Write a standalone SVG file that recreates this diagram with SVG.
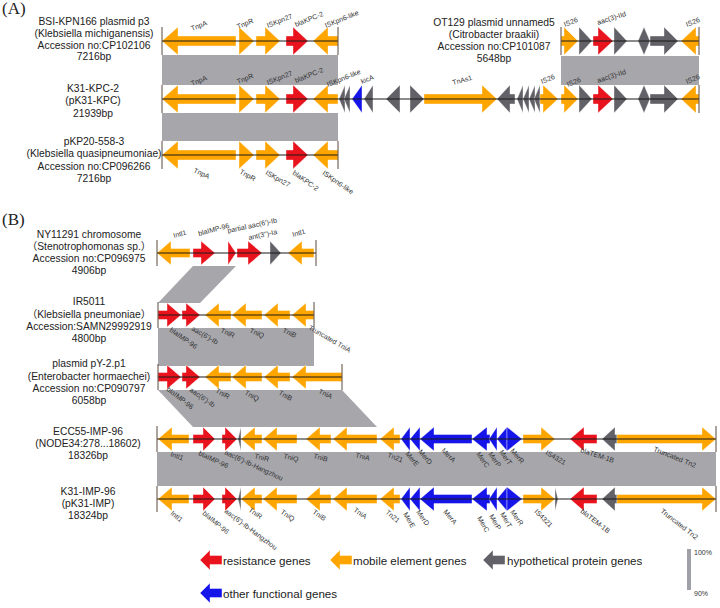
<svg xmlns="http://www.w3.org/2000/svg" width="720" height="608" viewBox="0 0 720 608">
<style>
.t{font-family:"Liberation Sans",Arial,"Noto Sans CJK SC",sans-serif;font-size:10.3px;fill:#222;text-anchor:middle}
.g{font-family:"Liberation Sans",Arial,sans-serif;font-size:7px;fill:#333}
.p{font-family:"Liberation Serif","Times New Roman",serif;font-size:17px;fill:#222}
.lg{font-family:"Liberation Sans",Arial,sans-serif;font-size:11.6px;fill:#222}
.sc{font-family:"Liberation Sans",Arial,sans-serif;font-size:7px;fill:#333}
.band{fill:#a6a6ab}
.trk{stroke:#1a1a1a;stroke-width:1.2}
.tick{stroke:#5b4b3b;stroke-width:1}
.o{fill:#ffa500}.r{fill:#e8131c}.k{fill:#616167}.b{fill:#1515ea}
polygon{stroke:#fff;stroke-width:0.4}
</style>
<defs>
<g id="kpc">
<polygon class="o" points="236,-5 178,-5 178,-14 162,0 178,14 178,5 236,5"/>
<polygon class="o" points="239,-14 254,0 239,14"/>
<polygon class="o" points="256,-5 265,-5 265,-14 280,0 265,14 265,5 256,5"/>
<polygon class="r" points="286,-5 293,-5 293,-14 308,0 293,14 293,5 286,5"/>
<polygon class="o" points="338,-5 328,-5 328,-14 313,0 328,14 328,5 338,5"/>
</g>
<g id="ot">
<polygon class="o" points="561,-5 564,-5 564,-14 578,0 564,14 564,5 561,5"/>
<polygon class="k" points="579,-14 592,0 579,14"/>
<polygon class="r" points="593,-5 598,-5 598,-14 613,0 598,14 598,5 593,5"/>
<polygon class="k" points="614,-14 627,0 614,14"/>
<polygon class="k" points="638,0 644,-14 650,0 644,14"/>
<polygon class="k" points="650,-5 664,-5 664,-14 678,0 664,14 664,5 650,5"/>
<polygon class="o" points="699,-5 696,-5 696,-14 681,0 696,14 696,5 699,5"/>
</g>
<g id="ir">
<polygon class="r" points="158,-4.5 167,-4.5 167,-12 181,0 167,12 167,4.5 158,4.5"/>
<polygon class="r" points="182,-4.5 186,-4.5 186,-12 200,0 186,12 186,4.5 182,4.5"/>
<polygon class="o" points="231,-4.5 219,-4.5 219,-12 205,0 219,12 219,4.5 231,4.5"/>
<polygon class="o" points="262,-4.5 246,-4.5 246,-12 232,0 246,12 246,4.5 262,4.5"/>
<polygon class="o" points="290,-4.5 278,-4.5 278,-12 264,0 278,12 278,4.5 290,4.5"/>
</g>
<g id="ecc">
<polygon class="o" points="189,-4.5 172,-4.5 172,-12 158,0 172,12 172,4.5 189,4.5"/>
<polygon class="r" points="193,-4.5 203,-4.5 203,-12 215,0 203,12 203,4.5 193,4.5"/>
<polygon class="r" points="222,-4.5 225,-4.5 225,-12 237,0 225,12 225,4.5 222,4.5"/>
<polygon class="k" points="241,-12 238,0 241,12"/>
<polygon class="o" points="262,-4.5 255,-4.5 255,-12 241,0 255,12 255,4.5 262,4.5"/>
<polygon class="o" points="297,-4.5 277,-4.5 277,-12 263,0 277,12 277,4.5 297,4.5"/>
<polygon class="o" points="331,-4.5 320,-4.5 320,-12 306,0 320,12 320,4.5 331,4.5"/>
<polygon class="o" points="377,-4.5 347,-4.5 347,-12 333,0 347,12 347,4.5 377,4.5"/>
<polygon class="o" points="400,-4.5 394,-4.5 394,-12 380,0 394,12 394,4.5 400,4.5"/>
<polygon class="b" points="410,-12 401,0 410,12"/>
<polygon class="b" points="420,-12 410,0 420,12"/>
<polygon class="b" points="472,-4.5 434,-4.5 434,-12 420,0 434,12 434,4.5 472,4.5"/>
<polygon class="b" points="490,-4.5 487,-4.5 487,-12 472,0 487,12 487,4.5 490,4.5"/>
<polygon class="b" points="497,-12 489,0 497,12"/>
<polygon class="b" points="507,-12 497,0 507,12"/>
<polygon class="b" points="507,-12 522,0 507,12"/>
<polygon class="o" points="523,-4.5 541,-4.5 541,-12 555,0 541,12 541,4.5 523,4.5"/>
<polygon class="r" points="597,-4.5 584,-4.5 584,-12 570,0 584,12 584,4.5 597,4.5"/>
<polygon class="k" points="617,-4.5 615,-4.5 615,-12 602,0 615,12 615,4.5 617,4.5"/>
<polygon class="o" points="617,-4.5 702,-4.5 702,-12 716,0 702,12 702,4.5 617,4.5"/>
</g>
</defs>

<text class="p" x="2" y="14">(A)</text>
<text class="p" x="2" y="225">(B)</text>

<g id="bands">
<rect class="band" x="162" y="55" width="176" height="30"/>
<rect class="band" x="561" y="56" width="138" height="29"/>
<rect class="band" x="162" y="113" width="176" height="28"/>
<polygon class="band" points="193,266 236,266 200,303 158,303" style="stroke:none"/>
<rect class="band" x="158" y="328" width="156" height="38"/>
<polygon class="band" points="158,390 342,390 377,427 193,427" style="stroke:none"/>
<rect class="band" x="157" y="452" width="559" height="34"/>
</g>

<g id="row-BSI">
<g transform="translate(0,41)">
<use href="#kpc"/>
<line class="trk" x1="162" y1="0" x2="338" y2="0"/>
<line class="tick" x1="162" y1="-14" x2="162" y2="14"/>
<line class="tick" x1="338" y1="-14" x2="338" y2="14"/>
</g>
<text class="t" x="94" y="25">BSI-KPN166 plasmid p3</text>
<text class="t" x="94" y="37">(Klebsiella michiganensis)</text>
<text class="t" x="94" y="48.5">Accession no:CP102106</text>
<text class="t" x="94" y="60">7216bp</text>
<text class="g" transform="translate(192,31) rotate(-22)">TnpA</text>
<text class="g" transform="translate(238,29) rotate(-22)">TnpR</text>
<text class="g" transform="translate(268,28) rotate(-22)">ISKpn27</text>
<text class="g" transform="translate(296,27) rotate(-22)">blaKPC-2</text>
<text class="g" transform="translate(326,28) rotate(-22)">ISKpn6-like</text>
</g>

<g id="row-OT129">
<g transform="translate(0,41)">
<use href="#ot"/>
<line class="trk" x1="561" y1="0" x2="699" y2="0"/>
<line class="tick" x1="561" y1="-14" x2="561" y2="14"/>
<line class="tick" x1="699" y1="-14" x2="699" y2="14"/>
</g>
<text class="t" x="494" y="26">OT129 plasmid unnamed5</text>
<text class="t" x="494" y="38">(Citrobacter braakii)</text>
<text class="t" x="494" y="50">Accession no:CP101087</text>
<text class="t" x="494" y="62">5648bp</text>
<text class="g" transform="translate(565,27) rotate(-22)">IS26</text>
<text class="g" transform="translate(598,25) rotate(-18)">aac(3)-IId</text>
<text class="g" transform="translate(687,27) rotate(-22)">IS26</text>
</g>

<g id="row-K31-KPC">
<g transform="translate(0,99)">
<use href="#kpc"/>
<polygon class="k" points="345,-14 339,0 345,14"/>
<polygon class="k" points="350,-14 344,0 350,14"/>
<polygon class="b" points="362,-14 352,0 362,14"/>
<polygon class="k" points="373,-14 364,0 373,14"/>
<polygon class="k" points="400,-14 386,0 400,14"/>
<polygon class="k" points="410,-14 424,0 410,14"/>
<polygon class="o" points="424,-5 482,-5 482,-14 497,0 482,14 482,5 424,5"/>
<polygon class="k" points="515,-5 510,-5 510,-14 497,0 510,14 510,5 515,5"/>
<polygon class="k" points="523,-14 517,0 523,14"/>
<polygon class="k" points="529,-14 523,0 529,14"/>
<polygon class="k" points="535,-14 529,0 535,14"/>
<polygon class="k" points="540,-14 534,0 540,14"/>
<polygon class="o" points="540,-5 543,-5 543,-14 558,0 543,14 543,5 540,5"/>
<use href="#ot"/>
<line class="trk" x1="162" y1="0" x2="699" y2="0"/>
<line class="tick" x1="162" y1="-14" x2="162" y2="14"/>
<line class="tick" x1="699" y1="-14" x2="699" y2="14"/>
</g>
<text class="t" x="93" y="92">K31-KPC-2</text>
<text class="t" x="93" y="104">(pK31-KPC)</text>
<text class="t" x="93" y="117">21939bp</text>
<text class="g" transform="translate(192,86) rotate(-22)">TnpA</text>
<text class="g" transform="translate(238,84) rotate(-22)">TnpR</text>
<text class="g" transform="translate(268,85) rotate(-22)">ISKpn27</text>
<text class="g" transform="translate(296,83) rotate(-22)">blaKPC-2</text>
<text class="g" transform="translate(328,87) rotate(-22)">ISKpn6-like</text>
<text class="g" transform="translate(362,84) rotate(-22)">kicA</text>
<text class="g" transform="translate(453,85) rotate(-15)">TnAs1</text>
<text class="g" transform="translate(542,84) rotate(-22)">IS26</text>
<text class="g" transform="translate(568,87) rotate(-22)">IS26</text>
<text class="g" transform="translate(598,83) rotate(-18)">aac(3)-IId</text>
<text class="g" transform="translate(687,84) rotate(-22)">IS26</text>
</g>

<g id="row-pKP20">
<g transform="translate(0,155)">
<use href="#kpc"/>
<line class="trk" x1="162" y1="0" x2="338" y2="0"/>
<line class="tick" x1="162" y1="-14" x2="162" y2="14"/>
<line class="tick" x1="338" y1="-14" x2="338" y2="14"/>
</g>
<text class="t" x="94" y="145">pKP20-558-3</text>
<text class="t" x="94" y="157">(Klebsiella quasipneumoniae)</text>
<text class="t" x="94" y="170">Accession no:CP096266</text>
<text class="t" x="94" y="182">7216bp</text>
<text class="g" transform="translate(193,172) rotate(25)">TnpA</text>
<text class="g" transform="translate(239,173) rotate(30)">TnpR</text>
<text class="g" transform="translate(265,174) rotate(30)">ISKpn27</text>
<text class="g" transform="translate(292,174) rotate(35)">blaKPC-2</text>
<text class="g" transform="translate(322,174) rotate(35)">ISKpn6-like</text>
</g>

<g id="row-NY11291">
<g transform="translate(0,253)">
<polygon class="o" points="190,-4.5 171,-4.5 171,-12 157,0 171,12 171,4.5 190,4.5"/>
<polygon class="r" points="193,-4.5 201,-4.5 201,-12 215,0 201,12 201,4.5 193,4.5"/>
<polygon class="r" points="228,-12 236,0 228,12"/>
<polygon class="r" points="237,-4.5 248,-4.5 248,-12 262,0 248,12 248,4.5 237,4.5"/>
<polygon class="k" points="270,-12 281,0 270,12"/>
<polygon class="o" points="314,-4.5 302,-4.5 302,-12 288,0 302,12 302,4.5 314,4.5"/>
<line class="trk" x1="157" y1="0" x2="316" y2="0"/>
<line class="tick" x1="157" y1="-13" x2="157" y2="13"/>
<line class="tick" x1="316" y1="-13" x2="316" y2="13"/>
</g>
<text class="t" x="89" y="238">NY11291 chromosome</text>
<text class="t" x="89" y="250">（Stenotrophomonas sp.）</text>
<text class="t" x="89" y="262">Accession no:CP096975</text>
<text class="t" x="89" y="274">4906bp</text>
<text class="g" transform="translate(174,238) rotate(-15)">Intl1</text>
<text class="g" transform="translate(199,236) rotate(-15)">blaIMP-96</text>
<text class="g" transform="translate(228,233) rotate(-12)">partial aac(6')-Ib</text>
<text class="g" transform="translate(249,240) rotate(-12)">ant(3'')-Ia</text>
<text class="g" transform="translate(293,237) rotate(-15)">Intl1</text>
</g>

<g id="row-IR5011">
<g transform="translate(0,315)">
<use href="#ir"/>
<polygon class="o" points="314,-4.5 306,-4.5 306,-12 292,0 306,12 306,4.5 314,4.5"/>
<line class="trk" x1="158" y1="0" x2="314" y2="0"/>
<line class="tick" x1="158" y1="-13" x2="158" y2="13"/>
<line class="tick" x1="314" y1="-13" x2="314" y2="13"/>
</g>
<text class="t" x="89" y="305">IR5011</text>
<text class="t" x="89" y="318">（Klebsiella pneumoniae）</text>
<text class="t" x="89" y="330">Accession:SAMN29992919</text>
<text class="t" x="89" y="342">4800bp</text>
<text class="g" transform="translate(169,331) rotate(35)">blaIMP-96</text>
<text class="g" transform="translate(191,330) rotate(30)">aac(6')-Ib</text>
<text class="g" transform="translate(220,332) rotate(25)">TniR</text>
<text class="g" transform="translate(249,332) rotate(25)">TniQ</text>
<text class="g" transform="translate(282,332) rotate(25)">TniB</text>
<text class="g" transform="translate(308,329) rotate(30)">Truncated TniA</text>
</g>

<g id="row-pY-2">
<g transform="translate(0,377)">
<use href="#ir"/>
<polygon class="o" points="342,-4.5 306,-4.5 306,-12 292,0 306,12 306,4.5 342,4.5"/>
<line class="trk" x1="158" y1="0" x2="342" y2="0"/>
<line class="tick" x1="158" y1="-13" x2="158" y2="13"/>
<line class="tick" x1="342" y1="-13" x2="342" y2="13"/>
</g>
<text class="t" x="89" y="367">plasmid pY-2.p1</text>
<text class="t" x="89" y="380">(Enterobacter hormaechei)</text>
<text class="t" x="89" y="392">Accession no:CP090797</text>
<text class="t" x="89" y="404">6058bp</text>
<text class="g" transform="translate(166,390) rotate(38)">blaIMP-96</text>
<text class="g" transform="translate(189,391) rotate(35)">aac(6')-Ib</text>
<text class="g" transform="translate(215,392) rotate(30)">TniR</text>
<text class="g" transform="translate(244,394) rotate(30)">TniQ</text>
<text class="g" transform="translate(278,394) rotate(30)">TniB</text>
<text class="g" transform="translate(318,393) rotate(25)">TniA</text>
</g>

<g id="row-ECC55">
<g transform="translate(0,439)">
<use href="#ecc"/>
<line class="trk" x1="157" y1="0" x2="716" y2="0"/>
<line class="tick" x1="157" y1="-13" x2="157" y2="13"/>
<line class="tick" x1="716" y1="-13" x2="716" y2="13"/>
</g>
<text class="t" x="88" y="435">ECC55-IMP-96</text>
<text class="t" x="88" y="447">(NODE34:278...18602)</text>
<text class="t" x="88" y="459">18326bp</text>
<text class="g" transform="translate(170,456) rotate(20)">Intl1</text>
<text class="g" transform="translate(198,455) rotate(25)">blaIMP-96</text>
<text class="g" transform="translate(224,454) rotate(25)">aac(6')-Ib-Hangzhou</text>
<text class="g" transform="translate(254,458) rotate(15)">TniR</text>
<text class="g" transform="translate(283,458) rotate(15)">TniQ</text>
<text class="g" transform="translate(313,458) rotate(15)">TniB</text>
<text class="g" transform="translate(355,457) rotate(15)">TniA</text>
<text class="g" transform="translate(387,457) rotate(20)">Tn21</text>
<text class="g" transform="translate(405,454) rotate(50)">MerE</text>
<text class="g" transform="translate(418,452) rotate(50)">MerD</text>
<text class="g" transform="translate(441,451) rotate(45)">MerA</text>
<text class="g" transform="translate(476,454) rotate(55)">MerC</text>
<text class="g" transform="translate(488,454) rotate(55)">MerP</text>
<text class="g" transform="translate(499,452) rotate(55)">MerT</text>
<text class="g" transform="translate(510,451) rotate(50)">MerR</text>
<text class="g" transform="translate(545,454) rotate(30)">IS4321</text>
<text class="g" transform="translate(580,452) rotate(18)">blaTEM-1B</text>
<text class="g" transform="translate(653,451) rotate(22)">Truncated Tn2</text>
</g>

<g id="row-K31-IMP">
<g transform="translate(0,499)">
<use href="#ecc"/>
<polygon class="k" points="555,-12 558,0 555,12"/>
<line class="trk" x1="157" y1="0" x2="716" y2="0"/>
<line class="tick" x1="157" y1="-13" x2="157" y2="13"/>
<line class="tick" x1="716" y1="-13" x2="716" y2="13"/>
</g>
<text class="t" x="88" y="495">K31-IMP-96</text>
<text class="t" x="88" y="507">(pK31-IMP)</text>
<text class="t" x="88" y="519">18324bp</text>
<text class="g" transform="translate(170,514) rotate(40)">Intl1</text>
<text class="g" transform="translate(202,514) rotate(40)">blaIMP-96</text>
<text class="g" transform="translate(224,512) rotate(37)">aac(6')-Ib-Hangzhou</text>
<text class="g" transform="translate(248,511) rotate(35)">TniR</text>
<text class="g" transform="translate(280,513) rotate(35)">TniQ</text>
<text class="g" transform="translate(312,513) rotate(35)">TniB</text>
<text class="g" transform="translate(353,511) rotate(35)">TniA</text>
<text class="g" transform="translate(385,513) rotate(40)">Tn21</text>
<text class="g" transform="translate(403,514) rotate(60)">MerE</text>
<text class="g" transform="translate(416,512) rotate(55)">MerD</text>
<text class="g" transform="translate(443,512) rotate(50)">MerA</text>
<text class="g" transform="translate(477,518) rotate(60)">MerC</text>
<text class="g" transform="translate(489,516) rotate(60)">MerP</text>
<text class="g" transform="translate(500,514) rotate(60)">MerT</text>
<text class="g" transform="translate(510,512) rotate(55)">MerR</text>
<text class="g" transform="translate(534,512) rotate(45)">IS4321</text>
<text class="g" transform="translate(580,512) rotate(38)">blaTEM-1B</text>
<text class="g" transform="translate(660,512) rotate(38)">Truncated Tn2</text>
</g>

<g id="legend">
<polygon class="r" points="222,555.5 210,555.5 210,550 200,560 210,570 210,564.5 222,564.5"/>
<text class="lg" x="223" y="564.5">resistance genes</text>
<polygon class="o" points="352,555.5 340,555.5 340,550 330,560 340,570 340,564.5 352,564.5"/>
<text class="lg" x="353" y="564.5">mobile element genes</text>
<polygon class="k" points="505,555.5 493,555.5 493,550 483,560 493,570 493,564.5 505,564.5"/>
<text class="lg" x="507" y="564.5">hypothetical protein genes</text>
<polygon class="b" points="222,588.5 210,588.5 210,583 200,593 210,603 210,597.5 222,597.5"/>
<text class="lg" x="223" y="597.5">other functional genes</text>
<rect x="687" y="549" width="4" height="41" fill="#a0a0a8"/>
<text class="sc" x="694" y="555">100%</text>
<text class="sc" x="694" y="596">90%</text>
</g>
</svg>
